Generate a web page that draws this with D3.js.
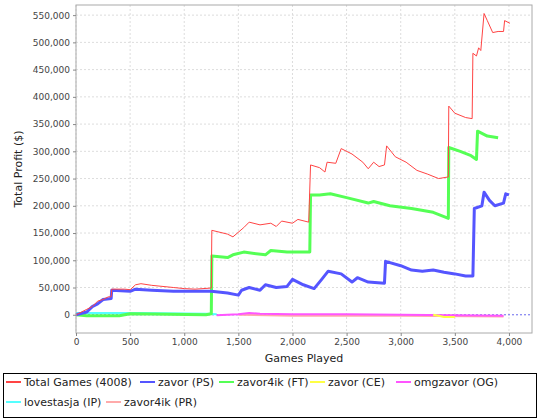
<!DOCTYPE html>
<html><head><meta charset="utf-8">
<script src="https://cdn.jsdelivr.net/npm/d3@7"></script>
<style>body{margin:0;background:#fff}svg{font-family:"DejaVu Sans",sans-serif}</style>
</head><body><svg id="c" width="540" height="420"></svg>
<script>
const xTicks=[0,500,1000,1500,2000,2500,3000,3500,4000];
const yTicks=[0,50000,100000,150000,200000,250000,300000,350000,400000,450000,500000,550000];
const totalGames=[[0,0],[50,5000],[100,10000],[150,15000],[200,25000],[250,28000],[300,33000],[325,33000],[330,47000],[450,47000],[500,46000],[550,55000],[600,57000],[700,54000],[900,50000],[1000,48000],[1100,47000],[1250,49000],[1255,155000],[1400,148000],[1450,143000],[1550,160000],[1600,170000],[1700,165000],[1800,168000],[1850,162000],[1900,172000],[2000,168000],[2050,175000],[2150,170000],[2167,275000],[2250,270000],[2300,262000],[2320,280000],[2400,278000],[2450,305000],[2550,295000],[2650,280000],[2700,268000],[2750,280000],[2800,272000],[2850,275000],[2870,310000],[2950,290000],[3050,280000],[3150,265000],[3250,258000],[3350,250000],[3440,253000],[3444,383000],[3500,370000],[3600,362000],[3660,360000],[3667,480000],[3700,475000],[3720,490000],[3740,485000],[3770,553000],[3800,540000],[3850,518000],[3900,520000],[3950,520000],[3960,540000],[4009,535000]];
const zavorPS=[[0,0],[100,5000],[150,15000],[200,20000],[250,28000],[325,30000],[330,45000],[500,43000],[550,47000],[700,45000],[900,43000],[1250,43000],[1400,40000],[1500,36000],[1530,45000],[1600,50000],[1700,45000],[1750,55000],[1850,50000],[1950,52000],[2000,65000],[2100,55000],[2200,48000],[2270,65000],[2330,80000],[2450,75000],[2550,60000],[2600,68000],[2700,60000],[2850,58000],[2860,98000],[3000,90000],[3100,82000],[3200,80000],[3300,82000],[3400,78000],[3500,75000],[3600,71000],[3667,71000],[3680,195000],[3750,200000],[3770,225000],[3820,210000],[3870,200000],[3950,205000],[3970,222000],[4000,220000]];
const zavor4ikFT=[[0,0],[100,-2000],[400,-2000],[500,2000],[1200,0],[1250,2000],[1255,108000],[1400,105000],[1450,110000],[1550,115000],[1750,110000],[1800,118000],[1950,115000],[2160,115000],[2167,220000],[2250,220000],[2350,222000],[2500,215000],[2700,205000],[2750,208000],[2900,200000],[3100,195000],[3300,188000],[3400,180000],[3440,177000],[3444,307000],[3550,300000],[3650,292000],[3700,285000],[3710,337000],[3800,328000],[3900,325000]];
const zavorCE=[[3300,0],[3350,-2000],[3400,-4000],[3500,-4000]];
const omgzavorOG=[[1300,-1000],[1500,1000],[1600,3000],[1700,2000],[2000,1000],[2500,1000],[3000,0],[3500,-1000],[3950,-2000]];
const lovestasjaIP=[[0,3000],[600,3000],[1200,2000],[1300,1000]];
const zavor4ikPR=[[1500,0],[2000,-2000],[3000,-2000],[3950,-3000]];
const series=[
 {name:"Total Games (4008)",data:totalGames,color:"#ff4444",w:1},
 {name:"zavor (PS)",data:zavorPS,color:"#5555ff",w:3},
 {name:"zavor4ik (FT)",data:zavor4ikFT,color:"#55ff55",w:3},
 {name:"zavor (CE)",data:zavorCE,color:"#ffff44",w:2},
 {name:"omgzavor (OG)",data:omgzavorOG,color:"#ff55ff",w:2},
 {name:"lovestasja (IP)",data:lovestasjaIP,color:"#55ffff",w:2},
 {name:"zavor4ik (PR)",data:zavor4ikPR,color:"#ffaaaa",w:2}];
const svg=d3.select("#c");
const L=76,R=532,T=5,B=333;
const x=d3.scaleLinear().domain([0,4213]).range([L,R]);
const y=d3.scaleLinear().domain([-33500,568600]).range([B,T]);
const g=svg.append("g");
xTicks.forEach(t=>g.append("line").attr("x1",x(t)).attr("x2",x(t)).attr("y1",T).attr("y2",B).attr("stroke","#ddd").attr("stroke-dasharray","2,2"));
yTicks.forEach(t=>g.append("line").attr("x1",L).attr("x2",R).attr("y1",y(t)).attr("y2",y(t)).attr("stroke","#ddd").attr("stroke-dasharray","2,2"));
g.append("line").attr("x1",L).attr("x2",R).attr("y1",y(0)).attr("y2",y(0)).attr("stroke","#4444ff").attr("stroke-dasharray","2,2").attr("stroke-width",0.7);
const line=d3.line().x(d=>x(d[0])).y(d=>y(d[1]));
[6,5,4,3,2,1,0].forEach(i=>{const s=series[i];g.append("path").attr("d",line(s.data)).attr("fill","none").attr("stroke",s.color).attr("stroke-width",s.w).attr("stroke-linejoin","round");});
g.append("rect").attr("x",L).attr("y",T).attr("width",R-L).attr("height",B-T).attr("fill","none").attr("stroke","#aaa");
const xa=svg.append("g").attr("transform",`translate(0,${B})`).call(d3.axisBottom(x).tickValues(xTicks).tickFormat(d3.format(",")).tickSize(3));
const ya=svg.append("g").attr("transform",`translate(${L},0)`).call(d3.axisLeft(y).tickValues(yTicks).tickFormat(d3.format(",")).tickSize(3));
[xa,ya].forEach(a=>{a.select(".domain").remove();a.selectAll("text").attr("font-size",9).attr("fill","#444").attr("font-family","DejaVu Sans");a.selectAll("line").attr("stroke","#888");});
svg.append("text").attr("x",(L+R)/2).attr("y",362).attr("text-anchor","middle").attr("font-size",11).attr("fill","#222").text("Games Played");
svg.append("text").attr("transform",`translate(22,${(T+B)/2}) rotate(-90)`).attr("text-anchor","middle").attr("font-size",11).attr("fill","#222").text("Total Profit ($)");
svg.append("rect").attr("x",3.5).attr("y",373.5).attr("width",533).attr("height",44).attr("fill","#fff").attr("stroke","#000");
const pos=[[6,386],[140,386],[219,386],[310,386],[396,386],[6,406],[106,406]];
series.forEach((s,i)=>{const [px,py]=pos[i];
 svg.append("line").attr("x1",px).attr("x2",px+15).attr("y1",py-4).attr("y2",py-4).attr("stroke",s.color).attr("stroke-width",2);
 svg.append("text").attr("x",px+18).attr("y",py).attr("font-size",11).attr("fill","#222").text(s.name);});
</script></body></html>
